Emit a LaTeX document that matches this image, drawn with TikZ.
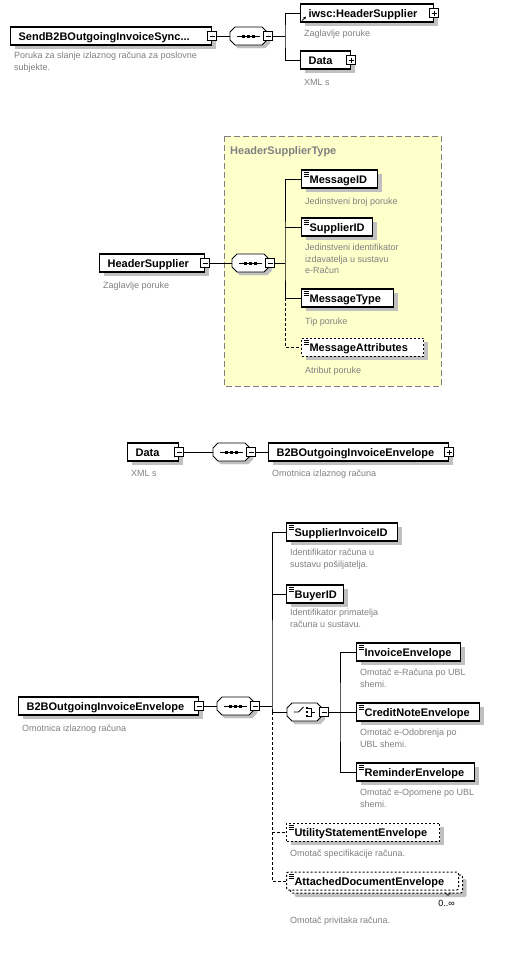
\documentclass[tikz,border=0pt]{standalone}
\usepackage{fontspec}
\setmainfont{Liberation Sans}
\usetikzlibrary{calc,shadows,arrows.meta}
\definecolor{descgrey}{RGB}{128,128,128}
\definecolor{shadegrey}{RGB}{192,192,192}
\definecolor{typeyellow}{RGB}{255,255,204}
\def\compshape(#1){\filldraw[shadegrey, transform canvas={shift={(3pt,-3pt)}}] ($(#1.north west)+(0,5)$) -- ($(#1.north west)+(5,0)$) -- ($(#1.north east)+(-5,0)$) -- ($(#1.north east)+(0,5)$) -- ($(#1.south east)+(0,-5)$) -- ($(#1.south east)+(-5,0)$) -- ($(#1.south west)+(5,0)$) -- ($(#1.south west)+(0,-5)$) -- cycle; \filldraw[fill=white, line width=0.8pt] ($(#1.north west)+(0,5)$) -- ($(#1.north west)+(5,0)$) -- ($(#1.north east)+(-5,0)$) -- ($(#1.north east)+(0,5)$) -- ($(#1.south east)+(0,-5)$) -- ($(#1.south east)+(-5,0)$) -- ($(#1.south west)+(5,0)$) -- ($(#1.south west)+(0,-5)$) -- cycle;}
\def\seqglyph(#1){\draw[line width=0.8pt] ([xshift=7pt]#1.west) -- ([xshift=-7pt]#1.east); \foreach \dx in {-5,0,5} {\fill ($(#1.center)+(\dx-1.5,-1.5)$) rectangle +(3,3);}}
\def\choiceglyph(#1){\draw[line width=0.8pt] ($(#1.center)+(-11,0)$) -- ++(5,0) -- ++(5,-5); \foreach \dy in {-4,0,4} {\fill ($(#1.center)+(1,\dy-1.2)$) rectangle +(2.4,2.4);} \draw[line width=0.8pt] ($(#1.center)+(3.4,-4)$) -- ++(3,0) -- ++(0,8) -- ++(-3,0) ($(#1.center)+(6.4,0)$) -- ++(4,0);}

\tikzset{
	elembase/.style={draw, fill=white, line width=1.2pt, anchor=west, minimum height=18pt, inner xsep=8pt, inner ysep=0pt, text height=8pt, text depth=0pt, align=left, font=\fontsize{11}{13}\selectfont\bfseries},
	elem/.style={elembase, drop shadow={shadow xshift=4pt, shadow yshift=-4pt, fill=shadegrey, opacity=1}},
	optelem/.style={elem, line width=1pt, dash pattern=on 2pt off 2pt},
	multielem/.style={elembase, line width=1pt, dash pattern=on 2pt off 2pt, rounded corners=2pt, drop shadow={shadow xshift=8pt, shadow yshift=-7pt, fill=shadegrey, opacity=1}, copy shadow={shadow xshift=4pt, shadow yshift=-3pt, draw, fill=white, opacity=1}},
	simple/.style={path picture={\foreach \k in {2.5,4.5,6.5} \draw[solid, line width=0.6pt] ($(path picture bounding box.north west)+(2,\k)$) -- +(5,0);}},
	minusbox/.style={draw, fill=white, solid, line width=0.8pt, minimum size=9pt, inner sep=0pt, path picture={\draw[line width=0.8pt] ([xshift=2pt]path picture bounding box.west) -- ([xshift=-2pt]path picture bounding box.east);}},
	plusbox/.style={minusbox, path picture={\draw[line width=0.8pt] ([xshift=2pt]path picture bounding box.west) -- ([xshift=-2pt]path picture bounding box.east) ([yshift=2pt]path picture bounding box.south) -- ([yshift=-2pt]path picture bounding box.north);}},
	comp/.style={rectangle, minimum width=37pt, minimum height=18pt, inner sep=0pt, outer sep=0pt, anchor=west},
	conn/.style={line width=0.8pt},
	optconn/.style={conn, dash pattern=on 3pt off 2pt},
	desc/.style={anchor=north west, inner sep=0pt, align=left, text=descgrey, font=\fontsize{9}{11.5}\selectfont, execute at begin node=\strut},
	title/.style={anchor=base west, inner sep=0pt, text=descgrey, font=\fontsize{11}{13}\selectfont\bfseries}
}

\begin{document}
\begin{tikzpicture}[x=1pt, y=-1pt]
	%%%%% START %%%%%
	
	\fill[white] (0,0) rectangle (509,959);
	\useasboundingbox (0,0) rectangle (509,959);
	
	% SendB2BOutgoingInvoiceSync
	\node[elem, text width=185pt] (send) at (10,36) {SendB2BOutgoingInvoiceSync...};
	\node[minusbox] (sendm) at (send.east) {};
	\node[desc] (senddesc) at (14,52) {Poruka za slanje izlaznog računa za poslovne\\subjekte.};
	
	\node[comp] (seqa) at (230,36) {};
	\compshape(seqa)
	\node[minusbox] (seqam) at ([xshift=1pt]seqa.east) {};
	\seqglyph(seqa)
	\coordinate (busa) at (285,36);
	
	\node[elem, text width=117pt] (iwsc) at (300,13) {iwsc:HeaderSupplier};
	\node[plusbox] (iwscp) at (iwsc.east) {};
	\draw[-{Stealth[length=3pt,width=3pt]}, line width=0.8pt] ([shift={(2,-2)}]iwsc.south west) -- +(4,-4);
	\node[desc] (iwscdesc) at (304,28) {Zaglavlje poruke};
	
	\node[elem, text width=34pt] (dataa) at (300,60) {Data};
	\node[plusbox] (dataap) at (dataa.east) {};
	\node[desc] (dataadesc) at (304,77) {XML s};
	
	\draw[conn] (sendm.east) -- (seqa.west);
	\draw[conn] (seqam.east) -- (busa);
	\draw[conn] (iwsc.west) -| (busa) |- (dataa.west);
	
	% HeaderSupplierType
	\draw[draw=black!50, fill=typeyellow, line width=1pt, dash pattern=on 6pt off 3pt] (224,136) rectangle (441,386);
	\node[title] (hstitle) at (230,154) {HeaderSupplierType};
	
	\node[elem, text width=89pt] (hsup) at (99,263) {HeaderSupplier};
	\node[minusbox] (hsupm) at (hsup.east) {};
	\node[desc] (hsupdesc) at (103,280) {Zaglavlje poruke};
	
	\node[comp] (seqb) at (232,263) {};
	\compshape(seqb)
	\node[minusbox] (seqbm) at ([xshift=1pt]seqb.east) {};
	\seqglyph(seqb)
	\coordinate (busb) at (285,263);
	
	\node[elem, simple, text width=60pt] (msgid) at (301,179) {MessageID};
	\node[desc] (msgiddesc) at (305,196) {Jedinstveni broj poruke};
	\node[elem, simple, text width=55pt] (suppid) at (301,227) {SupplierID};
	\node[desc] (suppiddesc) at (305,244) {Jedinstveni identifikator\\izdavatelja u sustavu\\e-Račun};
	\node[elem, simple, text width=76pt] (msgtype) at (301,298) {MessageType};
	\node[desc] (msgtypedesc) at (305,316) {Tip poruke};
	\node[optelem, simple, text width=106pt] (msgattr) at (301,347) {MessageAttributes};
	\node[desc] (msgattrdesc) at (305,365) {Atribut poruke};
	
	\draw[conn] (hsupm.east) -- (seqb.west);
	\draw[conn] (seqbm.east) -- (busb);
	\draw[conn] (msgid.west) -| (busb) |- (msgtype.west);
	\draw[conn] (suppid.west) -- (suppid.west -| busb);
	\draw[optconn] (msgtype.west -| busb) |- (msgattr.west);
	
	% Data
	\node[elem, text width=35pt] (datab) at (127,452) {Data};
	\node[minusbox] (databm) at (datab.east) {};
	\node[desc] (databdesc) at (131,468) {XML s};
	
	\node[comp] (seqc) at (213,452) {};
	\compshape(seqc)
	\node[minusbox] (seqcm) at ([xshift=1pt]seqc.east) {};
	\seqglyph(seqc)
	
	\node[elem, text width=164pt] (enva) at (268,452) {B2BOutgoingInvoiceEnvelope};
	\node[plusbox] (envap) at (enva.east) {};
	\node[desc] (envadesc) at (272,468) {Omotnica izlaznog računa};
	
	\draw[conn] (databm.east) -- (seqc.west);
	\draw[conn] (seqcm.east) -- (enva.west);
	
	% B2BOutgoingInvoiceEnvelope
	\node[elem, text width=164pt] (envb) at (18,706) {B2BOutgoingInvoiceEnvelope};
	\node[minusbox] (envbm) at (envb.east) {};
	\node[desc] (envbdesc) at (22,723) {Omotnica izlaznog računa};
	
	\node[comp] (seqd) at (217,706) {};
	\compshape(seqd)
	\node[minusbox] (seqdm) at ([xshift=1pt]seqd.east) {};
	\seqglyph(seqd)
	\coordinate (busc) at (272,706);
	
	\node[elem, simple, text width=95pt] (suppinv) at (286,532) {SupplierInvoiceID};
	\node[desc] (suppinvdesc) at (290,549) {Identifikator računa u\\sustavu pošiljatelja.};
	\node[elem, simple, text width=41pt] (buyer) at (286,594) {BuyerID};
	\node[desc] (buyerdesc) at (290,609) {Identifikator primatelja\\računa u sustavu.};
	
	\node[comp, minimum width=35pt] (choice) at (287,712) {};
	\compshape(choice)
	\node[minusbox] (choicem) at ([xshift=2pt]choice.east) {};
	\choiceglyph(choice)
	\coordinate (busd) at (340,712);
	
	\node[elem, simple, text width=88pt] (invenv) at (356,652) {InvoiceEnvelope};
	\node[desc] (invenvdesc) at (360,669) {Omotač e-Računa po UBL\\shemi.};
	\node[elem, simple, text width=107pt] (cnenv) at (356,712) {CreditNoteEnvelope};
	\node[desc] (cnenvdesc) at (360,729) {Omotač e-Odobrenja po\\UBL shemi.};
	\node[elem, simple, text width=102pt] (remenv) at (356,772) {ReminderEnvelope};
	\node[desc] (remenvdesc) at (360,789) {Omotač e-Opomene po UBL\\shemi.};
	
	\node[optelem, simple, text width=137pt] (utilenv) at (286,832) {UtilityStatementEnvelope};
	\node[desc] (utilenvdesc) at (290,848) {Omotač specifikacije računa.};
	\node[multielem, simple, text width=156pt] (attenv) at (286,881) {AttachedDocumentEnvelope};
	\draw[line width=0.6pt] ([shift={(-14,2)}]attenv.south east) -- ++(3,3) -- ++(3,-3);
	\node[anchor=north east, inner sep=0pt, font=\fontsize{9}{11.5}\selectfont, execute at begin node=\strut] (attocc) at (455,898) {0..∞};
	\node[desc] (attenvdesc) at (290,915) {Omotač privitaka računa.};
	
	\draw[conn] (envbm.east) -- (seqd.west);
	\draw[conn] (seqdm.east) -- (busc);
	\draw[conn] (suppinv.west) -| (busc) -- (choice.west -| busc) -- (choice.west);
	\draw[conn] (buyer.west) -- (buyer.west -| busc);
	\draw[optconn] (choice.west -| busc) |- (utilenv.west);
	\draw[optconn] (utilenv.west -| busc) |- (attenv.west);
	\draw[conn] (choicem.east) -- (busd) -- (cnenv.west);
	\draw[conn] (invenv.west) -| (busd) |- (remenv.west);
	
	%%%%% END %%%%%
\end{tikzpicture}
\end{document}
